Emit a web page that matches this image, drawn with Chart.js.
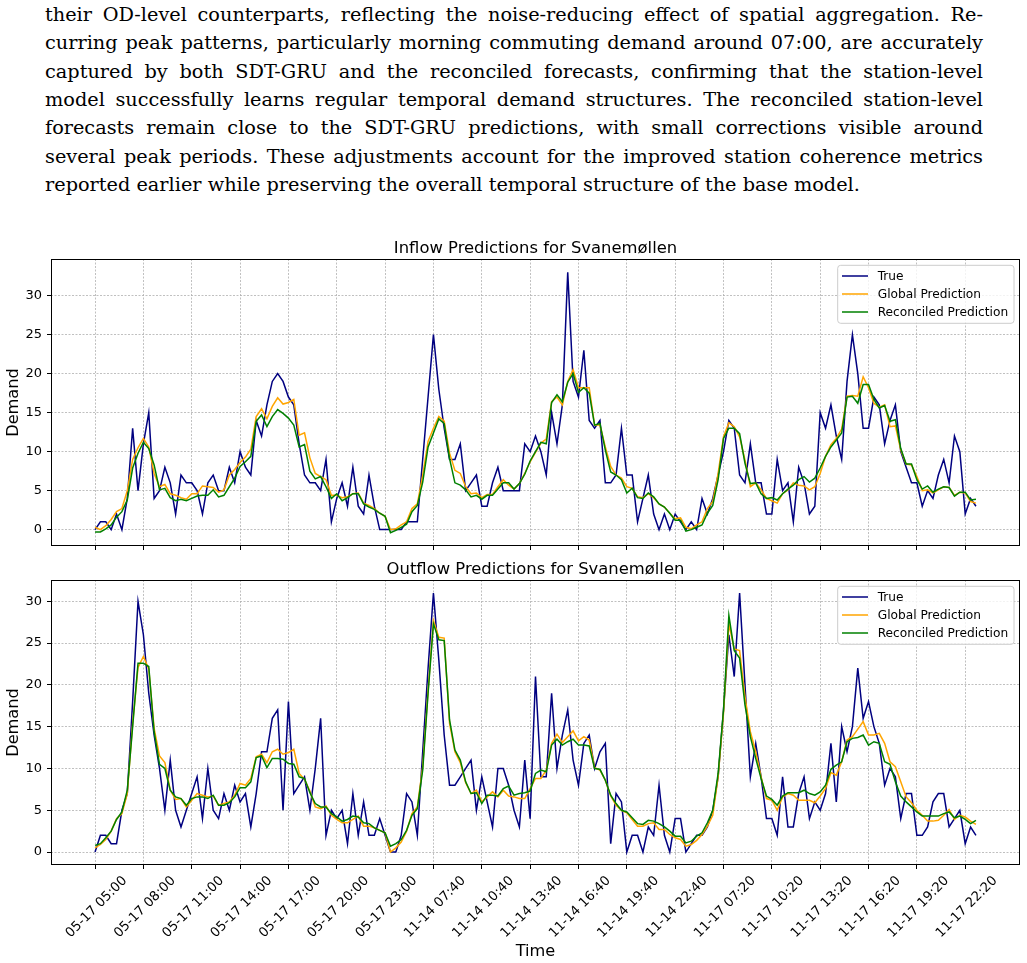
<!DOCTYPE html>
<html><head><meta charset="utf-8">
<script src="https://cdn.jsdelivr.net/npm/chart.js@4.4.0/dist/chart.umd.min.js"></script>
<style>
html,body{margin:0;padding:0;background:#fff;width:1027px;height:963px;overflow:hidden;}
#para{position:absolute;left:45px;top:1px;width:938px;font-family:'DejaVu Serif',serif;font-size:19.3px;line-height:28.33px;color:#000;}
#para div.j{text-align:justify;text-align-last:justify;}
canvas{position:absolute;left:0;}
</style></head><body>
<div id="para">
<div class="j">their OD-level counterparts, reflecting the noise-reducing effect of spatial aggregation. Re-</div>
<div class="j">curring peak patterns, particularly morning commuting demand around 07:00, are accurately</div>
<div class="j">captured by both SDT-GRU and the reconciled forecasts, confirming that the station-level</div>
<div class="j">model successfully learns regular temporal demand structures. The reconciled station-level</div>
<div class="j">forecasts remain close to the SDT-GRU predictions, with small corrections visible around</div>
<div class="j">several peak periods. These adjustments account for the improved station coherence metrics</div>
<div>reported earlier while preserving the overall temporal structure of the base model.</div>
</div>
<canvas id="c1" width="1027" height="330" style="top:232px;width:1027px;height:330px"></canvas>
<canvas id="c2" width="1027" height="403" style="top:560px;width:1027px;height:403px"></canvas>
<script>
// ---- data ----
const tickIdx = [0,9,18,27,36,45,54,63,72,81,90,99,108,117,126,135,144,153,162];
const tickLabels = ["05-17 05:00","05-17 08:00","05-17 11:00","05-17 14:00","05-17 17:00","05-17 20:00","05-17 23:00","11-14 07:40","11-14 10:40","11-14 13:40","11-14 16:40","11-14 19:40","11-14 22:40","11-17 07:20","11-17 10:20","11-17 13:20","11-17 16:20","11-17 19:20","11-17 22:20"];
const yTicks = [0,5,10,15,20,25,30];
const seriesNames = ["True","Global Prediction","Reconciled Prediction"];

const inTrue = [0,1,1,0,2,0,4,13,5,11, 15,4,5,8,6,2,7,6,6,5, 2,6,7,5,5,8,6,10,8,7, 14,12,16,19,20,19,17,16,11,7,
 6,6,5,9,1,4,6,3,8,3, 2,7,3,0,0,0,0,0,1,1, 1,9,17,25,18,13,9,9,11,5, 6,7,3,3,6,8,5,5,5,5,
 11,10,12,10,7,15,11,16,33,19, 17,23,14,13,14,6,6,7,13,7, 7,1,4,7,2,0,2,0,2,1, 0,1,0,4,2,4,7,10,14,13,
 7,6,11,6,6,2,2,9,5,6, 1,8,6,2,3,15,13,16,12,9, 19,25,20,13,13,17,16,11,14,16, 10,8,6,6,3,5,4,7,9,6, 12,10,2,4,3];
const inGlobal = [0.3,0,0.5,1.3,2.3,2.7,5,9,10.5,11.7, 10.6,7.2,5.5,5.8,4.6,4.4,4.1,3.9,4.6,4.6, 5.6,5.5,5.4,4.8,5.1,7,7.7,8.6,9.3,10.3, 14.5,15.5,14.2,15.8,16.9,16.1,16.3,16.7,12.1,12.4,
 9.2,7.2,6.8,6.4,4.4,4.4,4.1,4.2,4.6,4.7, 3.4,3.1,2.7,2.1,1.7,0,0.1,0.6,1,2.7, 3.3,7,11.3,13,14.5,13.9,9.8,7.6,7.2,5.5, 4.6,4.7,4.1,4.5,4.5,5.5,6.4,5.7,5.2,5.9,
 7.2,8.7,9.9,11.1,11.6,16.4,17,16,19,20.5, 18.2,18.2,18.2,13.4,13.4,10.6,8.1,7,6.6,5.5, 5.3,4.2,4.1,4.6,4.1,3.3,2.9,2.1,1.4,1.5, 0.3,0.1,0.6,1,2.7,3.6,7.2,11.9,13.7,13.2,
 11.9,8.9,5.5,6,5.1,4,3.7,3.4,4.6,5.1, 6,5.7,5.6,5.1,5.5,7.2,9.4,10.9,11.7,12.9, 17.1,17.2,17.1,19.6,18.2,16.2,15.7,16,13.2,13.3, 10.2,8.4,8.3,6.8,5,5.1,4.7,5.1,5.5,5.4, 4.4,4.8,4.7,3.6,3.4];
const inRecon = [-0.3,-0.3,0.1,0.6,1.6,2.3,3.8,7.9,9.8,11.2, 10.4,8.3,5.1,5.3,4.1,3.7,3.9,3.7,4,4.3, 4.4,4.4,5.1,4.2,4.4,5.5,6.6,8.1,8.7,9.4, 13.9,14.7,13.2,14.5,15.4,14.9,14.3,13.4,10.6,10.9,
 7.5,6.5,6.8,5.5,4,4.6,3.7,4.1,4.6,4.6, 3.3,2.9,2.6,2.1,1.7,-0.4,-0.1,0.3,0.7,2.3, 3.1,6.1,10.6,12.4,14.2,13.6,9.1,6,5.7,5.1, 4.2,4.4,3.9,4.4,4.4,5.2,6,6,5.2,5.9,
 7.1,8.8,10,11.2,11,16.3,17.3,16.4,18.9,20, 17.6,18.2,17.5,13.4,13.6,10.2,7.4,7,6.4,4.7, 5.3,4.1,4,4.7,4.2,3.3,2.9,2.1,1.2,1.2, -0.2,0,0.3,0.6,2.1,3.1,6.4,11.7,13,13,
 12.3,8.5,5.9,6,4.6,4,4.1,3.8,4.6,5.2, 5.7,6.4,6.8,6.1,6.6,7.9,9.4,10.6,11.5,12.4, 17,17.1,16.2,18.6,18.6,16.7,15.6,15.9,13.9,14.1, 10.4,8.4,8.4,6.4,5.2,5.6,4.8,5.2,5.5,5.4, 4.3,4.8,4.8,3.8,3.9];

const outTrue = [0,2,2,1,1,5,7,18,30,26, 19,14,10,5,11,5,3,5,7,9, 4,10,5,4,7,5,8,6,7,3, 7,12,12,16,17,5,18,7,8,9,
 5,10,16,2,5,4,5,1,7,2, 6,2,2,4,2,0,0,2,7,6, 2,12,22,31,23,14,8,8,9,10, 11,5,9,6,3,10,10,8,5,3,
 11,4,21,9,9,19,10,14,17,11, 8,13,14,10,12,13,1,7,6,0, 2,2,0,3,2,8,2,0,4,4, 0,1,2,2,3,5,9,17,26,21,
 31,20,9,13,9,4,4,2,9,3, 3,7,9,4,6,5,7,13,6,15, 12,15,22,16,18,15,13,8,10,9, 4,7,7,2,2,3,6,7,7,3, 4,5,1,3,2];
const outGlobal = [0.5,0.9,1.5,2.5,4,4.6,7,15.4,22.1,23.4, 21.9,14.8,11.5,10.7,7.4,6.3,6.4,5.4,6.2,7, 6.8,6.6,6.7,5.6,5.8,6,6.8,8.2,8,8.8, 11.4,11.7,10.7,12,12.3,11.7,11.9,12.3,9.4,8.7,
 7.3,5.4,5.2,5.5,4.4,3.9,3.5,3.5,3.9,4.3, 3.1,3.1,2.9,2.6,2.3,0,0.5,1.2,2.5,4.6, 5.4,10.2,19.3,27.7,25.7,25.6,15.4,12,10.7,8.3, 7,7.4,6,6.6,7.2,6.6,7.4,6.7,6.6,6.4,
 6.4,7.6,8.8,8.8,9.8,13,14.1,13.1,13.8,14.5, 13.3,13.8,13.4,10.1,9.8,8.6,6.7,5.6,5,4.7, 3.9,3.1,3.1,3.4,3.5,2.7,2.7,2.1,1.7,1.5, 0.7,0.9,1.4,2.1,3.1,4.4,9,16.6,27.3,24.3,
 24.1,18.6,14.4,12,9,6.4,6.2,5,6.6,7, 6.8,6.2,6.2,6.2,5.9,6.7,7.6,9.5,9.2,10.8, 13.4,13.8,14.7,15.6,14,14,14.2,13,10.8,10.2, 8.4,6.6,5.9,5,4.4,3.7,3.7,3.8,4.4,5.1, 3.9,4.4,4.2,3.7,3.3];
const outRecon = [0.8,1,1.7,2.5,3.9,4.8,7.4,15,22.6,22.6, 22.2,14.4,10.5,10,7.4,6.6,6.4,5.6,6.4,6.6, 6.6,6.4,6.8,5.6,5.6,5.9,6.6,7.7,7.7,8.4, 11.3,11.5,10.1,11.2,11.2,11.1,10.6,10.5,9,8.8,
 7.1,5.8,5.4,5.4,4.6,4.2,3.7,3.9,4.3,4.2, 3.5,3.4,2.9,2.6,2.3,0.7,1,1.5,2.6,4.4, 5.2,9.8,19,27.3,25.4,25.3,15.8,12.2,11,8.4, 7,7.1,5.8,6.8,6.8,6.7,7.6,7.9,6.8,7,
 7.1,7.3,9.4,9.8,9.6,12.8,13.5,12.8,13.2,13.5, 12.8,12.8,12.7,10,9.9,8.6,6.8,5.8,5,4.8, 4.1,3.4,3.3,3.8,3.7,3.4,3,2.5,1.9,1.9, 1.1,1.3,1.9,2.3,3.5,5,9.4,17,28.3,24.1,
 23.2,17.6,13.8,11.2,8.8,6.7,6.3,5.6,6.7,7.1, 7.1,7.1,7.4,7,6.8,7.2,8,9.9,10.4,10.8, 13.2,13.6,13.7,14,12.8,13.2,13,10.8,10.5,8.4, 6.7,6,5.4,4.8,4.3,4.3,4.3,4.3,4.6,4.8, 4.1,4.3,3.9,3.4,3.8];

// ---- rendering ----
Chart.defaults.font.family = "'DejaVu Sans', sans-serif";
Chart.defaults.color = '#000';
const colors = ['#000080', '#FFA500', '#008000'];

function toXY(arr){ return arr.map((v,i)=>({x:i, y:v})); }

function makeChart(id, title, series, yMin, yMax, padTop, xHeight, showX){
  const gridCommon = {color:'#b0b0b0', lineWidth:0.8, tickColor:'#000', tickLength:4, tickWidth:1, tickBorderDash:[]};
  const extras = {
    id:'extras_'+id,
    afterDatasetsDraw(chart){
      const ctx = chart.ctx, a = chart.chartArea;
      ctx.save();
      ctx.strokeStyle = '#000'; ctx.lineWidth = 1;
      ctx.strokeRect(a.left+0.5, a.top+0.5, a.right-a.left-1, a.bottom-a.top-1);
      // title
      ctx.fillStyle = '#000';
      ctx.font = "16.4px 'DejaVu Sans'";
      ctx.textAlign = 'center'; ctx.textBaseline = 'alphabetic';
      ctx.fillText(title, (a.left+a.right)/2, a.top-6);
      // legend
      const x0 = a.right-182.3, y0 = a.top+6.3, w = 176.3, h = 58, r = 3;
      ctx.beginPath();
      ctx.moveTo(x0+r, y0); ctx.lineTo(x0+w-r, y0); ctx.quadraticCurveTo(x0+w, y0, x0+w, y0+r);
      ctx.lineTo(x0+w, y0+h-r); ctx.quadraticCurveTo(x0+w, y0+h, x0+w-r, y0+h);
      ctx.lineTo(x0+r, y0+h); ctx.quadraticCurveTo(x0, y0+h, x0, y0+h-r);
      ctx.lineTo(x0, y0+r); ctx.quadraticCurveTo(x0, y0, x0+r, y0);
      ctx.closePath();
      ctx.fillStyle = 'rgba(255,255,255,0.8)'; ctx.fill();
      ctx.strokeStyle = '#cccccc'; ctx.lineWidth = 1; ctx.stroke();
      ctx.font = "12.2px 'DejaVu Sans'"; ctx.textAlign = 'left'; ctx.textBaseline = 'middle';
      chart.data.datasets.forEach((ds,i)=>{
        const yy = y0 + 10.7 + 18*i;
        ctx.strokeStyle = ds.borderColor; ctx.lineWidth = 1.5;
        ctx.beginPath(); ctx.moveTo(x0+4.3, yy); ctx.lineTo(x0+30.3, yy); ctx.stroke();
        ctx.fillStyle = '#000'; ctx.fillText(ds.label, x0+40, yy+0.5);
      });
      ctx.restore();
    }
  };
  return new Chart(document.getElementById(id), {
    type:'line',
    data:{ datasets: series.map((s,i)=>({
      label: seriesNames[i], data: toXY(s), borderColor: colors[i], backgroundColor: colors[i],
      borderWidth:1.5, pointRadius:0, tension:0, fill:false, order: 3-i
    }))},
    options:{
      responsive:false, animation:false, devicePixelRatio:1, events:[],
      layout:{padding:{top:padTop, right:7, left:0, bottom:0}},
      plugins:{legend:{display:false}, tooltip:{enabled:false}, title:{display:false}},
      scales:{
        x:{
          type:'linear', min:-8.2, max:172.2,
          afterBuildTicks: s => { s.ticks = tickIdx.map(v=>({value:v})); },
          afterFit: s => { s.height = xHeight; },
          grid: gridCommon,
          border:{display:false, dash:[2,1.5]},
          ticks: showX ? {autoSkip:false, minRotation:45, maxRotation:45, labelOffset:30, padding:4,
                   font:{size:13.2}, color:'#000', callback:(v,i)=>tickLabels[i]} : {display:false},
          title: showX ? {display:true, text:'Time', font:{size:16.2}, color:'#000', padding:{top:4,bottom:1}} : {display:false}
        },
        y:{
          type:'linear', min:yMin, max:yMax,
          afterBuildTicks: s => { s.ticks = yTicks.map(v=>({value:v})); },
          afterFit: s => { s.width = 51; },
          grid: gridCommon,
          border:{display:false, dash:[2,1.5]},
          ticks:{font:{size:13}, color:'#000', padding:5},
          title:{display:true, text:'Demand', font:{size:16.2}, color:'#000', padding:{top:4,bottom:4}}
        }
      }
    },
    plugins:[extras]
  });
}

makeChart('c1', 'Inflow Predictions for Svanemøllen', [inTrue, inGlobal, inRecon], -2.1, 34.7, 27, 16, false);
makeChart('c2', 'Outflow Predictions for Svanemøllen', [outTrue, outGlobal, outRecon], -1.55, 32.55, 20, 98, true);
</script>
</body></html>
